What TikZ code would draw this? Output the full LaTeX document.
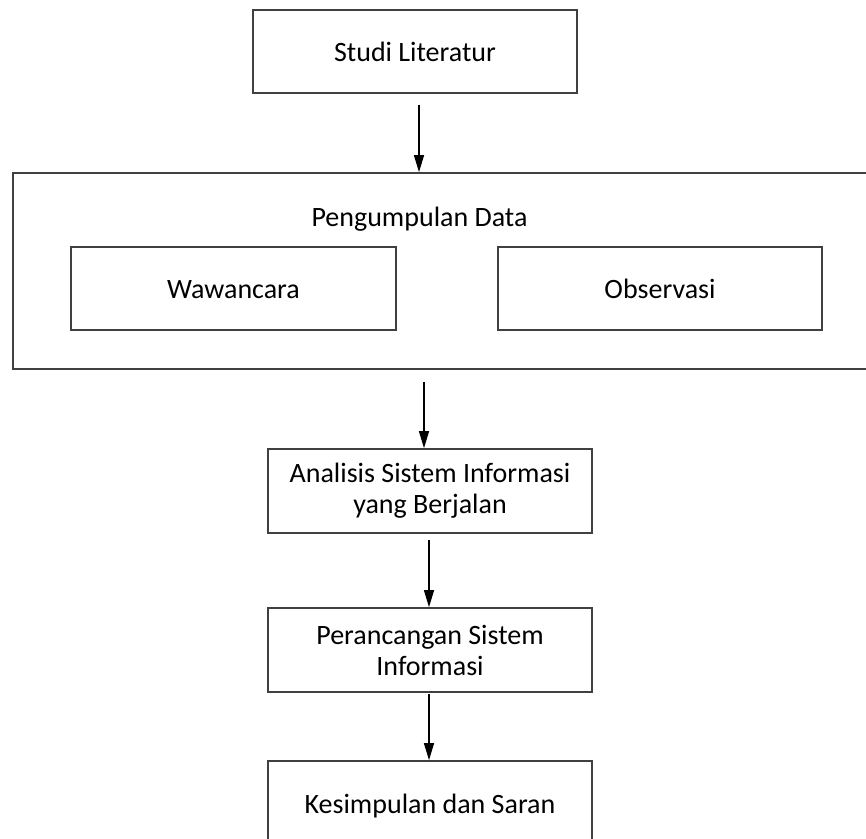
\documentclass[tikz,border=0pt]{standalone}
\usepackage{fontspec}
\setmainfont{Carlito}
\usetikzlibrary{arrows.meta,calc}
\begin{document}
\begin{tikzpicture}[x=1pt,y=-1pt,
  boxstyle/.style={draw=black!75, line width=1.7pt, rectangle, inner sep=0pt,
    minimum width=324pt, minimum height=84pt,
    font=\fontsize{28}{31}\selectfont, align=center},
  oneline/.style={text height=20pt, text depth=0pt},
  arr/.style={draw=black, line width=1.3pt, -{Triangle[length=17pt,width=10pt]}}]
\path[use as bounding box, clip] (0,0) rectangle (866,838);
\fill[white] (0,0) rectangle (866,838);
% boxes
\node[boxstyle, oneline, minimum height=83pt] (studi) at (415,51.5) {Studi Literatur};
\node[boxstyle, minimum width=867pt, minimum height=196pt] (pd) at (446.5,271) {};
\node[inner sep=0pt, font=\fontsize{28}{31}\selectfont, oneline] (pdl) at (419.5,216) {Pengumpulan Data};
\node[boxstyle, oneline, minimum width=325pt, minimum height=83pt] (waw) at (233.5,288.5) {Wawancara};
\node[boxstyle, oneline, minimum height=83pt] (obs) at (660,288.5) {Observasi};
\node[boxstyle] (ana) at (430,491) {Analisis Sistem Informasi\\yang Berjalan};
\node[boxstyle] (per) at (430,650) {Perancangan Sistem\\Informasi};
\node[boxstyle, oneline] (kes) at (430,803) {Kesimpulan dan Saran};
% connectors
\coordinate (a1) at ($(studi.south)+(4,11)$);
\coordinate (a2) at ($(pd.south -| ana.north)+(-6,12)$);
\coordinate (a3) at ($(ana.south)+(-1,6)$);
\coordinate (a4) at ($(per.south)+(-1,1)$);
\draw[arr] (a1) -- (a1 |- pd.north);
\draw[arr] (a2) -- (a2 |- ana.north);
\draw[arr] (a3) -- (a3 |- per.north);
\draw[arr] (a4) -- (a4 |- kes.north);
\end{tikzpicture}
\end{document}
